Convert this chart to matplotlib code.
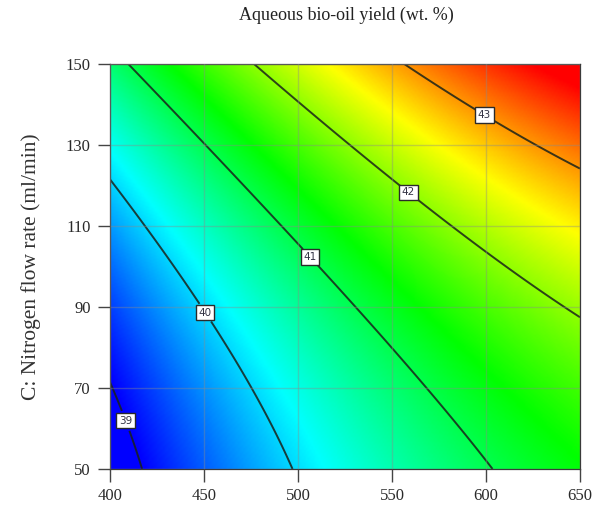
import numpy as np
import matplotlib
matplotlib.use("Agg")
import matplotlib.pyplot as plt
from matplotlib.colors import LinearSegmentedColormap, Normalize

# contour traces: (temperature, N2 flow) points on each level
levels = [39, 40, 41, 42, 43]
trace_x = {
    39: [400, 417],
    40: [400, 426.6, 452, 462, 496.6],
    41: [410, 453, 480, 502.7, 604.8],
    42: [476, 559.6, 590, 603.7, 650],
    43: [555, 600, 650],
}
trace_y = {
    39: [72, 50],
    40: [121.6, 104, 88.8, 79.4, 50],
    41: [150, 128.8, 116.4, 104, 50],
    42: [150, 119, 106.5, 101.6, 87.5],
    43: [150, 137.9, 124],
}
label_pos = [(409, 62), (452, 89), (508, 103), (560, 119), (600, 138)]
color_range = (39.0, 43.7)  # yield at the blue and red ends of the colour scale

xticks = [400, 450, 500, 550, 600, 650]
yticks = [50, 70, 90, 110, 130, 150]

# fit a quadratic response surface (coded units) through the traced points
def design(x, y):
    a = (np.asarray(x) - 525) / 125.0
    c = (np.asarray(y) - 100) / 50.0
    return np.column_stack([np.ones_like(a), a, c, a * c, a ** 2, c ** 2])

px, py, pz = [], [], []
for lv in levels:
    px += trace_x[lv]
    py += trace_y[lv]
    pz += [lv] * len(trace_x[lv])
coef, *_ = np.linalg.lstsq(design(px, py), np.array(pz, float), rcond=None)

gx = np.linspace(400, 650, 250)
gy = np.linspace(50, 150, 250)
GX, GY = np.meshgrid(gx, gy)
Z = (design(GX.ravel(), GY.ravel()) @ coef).reshape(GX.shape)

cmap = LinearSegmentedColormap.from_list(
    "de", ["#0000ff", "#00ffff", "#00ff00", "#ffff00", "#ff0000"])

fig = plt.figure(figsize=(6.03, 5.08), dpi=100)
ax = fig.add_axes([0.1824, 0.0768, 0.7794, 0.7972])

ax.imshow(Z, origin="lower", extent=[400, 650, 50, 150], aspect="auto",
          cmap=cmap, norm=Normalize(*color_range), interpolation="bilinear")
ax.grid(True, color="#8a8a8a", alpha=0.4, lw=1)
ax.set_axisbelow(False)
cs = ax.contour(GX, GY, Z, levels=levels, colors="#1a221a", linewidths=1.4, alpha=0.85)
lbls = ax.clabel(cs, fmt="%d", manual=label_pos, inline=True, inline_spacing=4, fontsize=7.5)
for t in lbls:
    t.set_rotation(0)
    t.set_color("#333344")
    t.set_bbox(dict(boxstyle="square,pad=0.25", fc="white", ec="#2a2a2a", lw=1))

ax.set_xlim(400, 650)
ax.set_ylim(50, 150)
ax.set_xticks(xticks)
ax.set_yticks(yticks)
ax.tick_params(direction="out", length=9, width=1, color="#444444", pad=5,
               labelsize=12, labelcolor="#2a2a2a")
for lab in ax.get_xticklabels() + ax.get_yticklabels():
    lab.set_family("Liberation Serif")
for s in ax.spines.values():
    s.set_color("#3a3a3a")
    s.set_linewidth(0.9)

ax.set_ylabel("C: Nitrogen flow rate (ml/min)", family="Liberation Serif",
              fontsize=15.5, color="#333333", labelpad=18)
fig.text(0.574, 0.970, "Aqueous bio-oil yield (wt. %)", family="Liberation Serif",
         fontsize=13, color="#222222", ha="center", va="center")

fig.savefig("out.png", dpi=100)
